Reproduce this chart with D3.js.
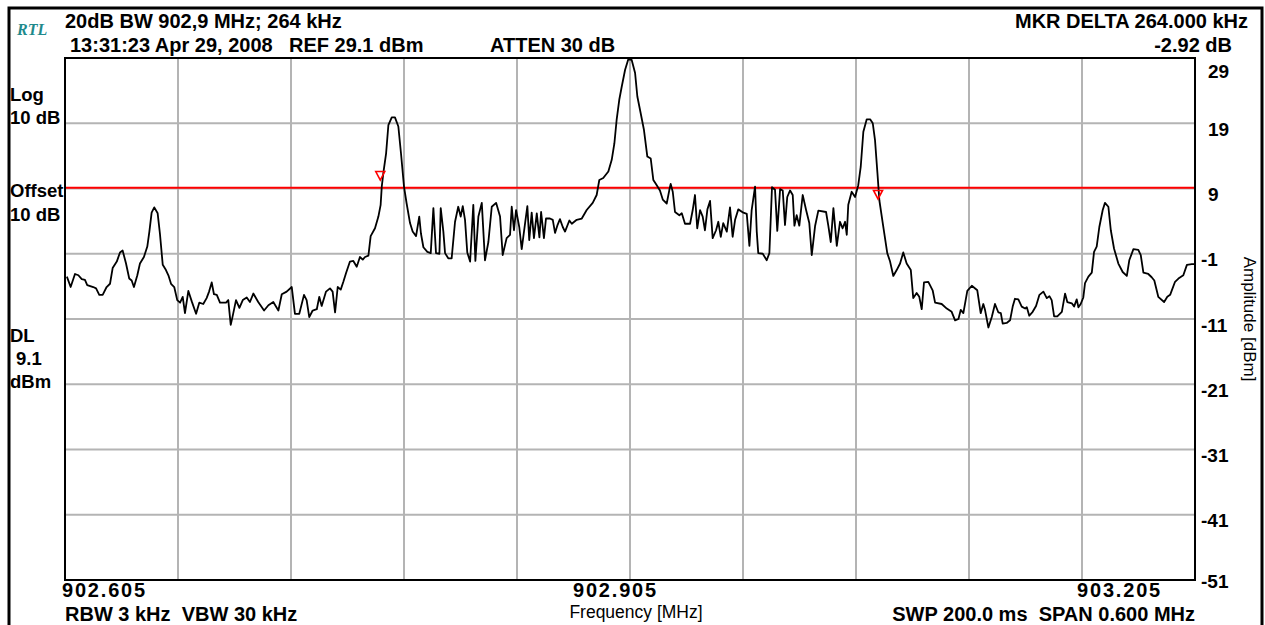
<!DOCTYPE html>
<html>
<head>
<meta charset="utf-8">
<script src="https://cdn.jsdelivr.net/npm/d3@7.9.0/dist/d3.min.js"></script>
<style>
  html, body { margin: 0; padding: 0; background: #fff; }
  svg { display: block; font-family: "Liberation Sans", Arial, sans-serif; }
  text { white-space: pre; }
</style>
</head>
<body>
<div id="chart"></div>
<script>
// analyzer settings
const startMHz = 902.605;
const stopMHz  = 903.205;
const refDBm   = 29;
const bottomDBm = -51;
const displayLineDBm = 9.1;

const xTickValues = [902.605, 902.905, 903.205];
const yTickValues = [29, 19, 9, -1, -11, -21, -31, -41, -51];

// trace: [kHz above start frequency, dBm]
const trace = [
  [1,-4.5],[3.0,-6.1],[5.3,-4.1],[7.1,-4.3],[8.9,-4.9],[10.6,-5.0],[11.8,-5.8],[15.0,-6.1],[16.5,-6.3],
  [18.2,-7.3],[20.0,-7.3],[22.1,-6.1],[23.9,-5.6],[25.3,-3.2],[27.5,-2.2],[29.2,-0.8],[30.6,-0.5],
  [32.4,-2.5],[34.1,-4.8],[35.4,-5.1],[36.6,-6.1],[38.4,-4.3],[39.8,-2.5],[41.9,-1.5],[43.7,0.1],
  [44.8,2.4],[46.0,5.3],[47.4,6.1],[49.2,5.2],[50.4,2.1],[51.9,-2.7],[53.6,-3.5],[54.9,-4.3],
  [56.3,-5.6],[58.0,-6.1],[59.6,-8.1],[61.1,-8.5],[62.5,-7.6],[63.7,-10.1],[65.5,-6.7],[67.3,-8.3],
  [69.6,-10.2],[71.3,-8.5],[73.4,-8.7],[75.2,-7.8],[76.5,-6.8],[77.9,-5.4],[79.1,-7.2],[80.6,-7.3],
  [82.3,-8.5],[85.5,-8.5],[86.7,-8.1],[88.0,-11.9],[89.0,-10.6],[90.8,-8.1],[92.6,-9.3],[94.4,-8.1],
  [96.5,-7.7],[98.2,-8.4],[100.0,-7.1],[102.6,-8.4],[105.7,-9.7],[108.0,-8.9],[110.6,-8.4],[113.3,-9.7],
  [115.1,-7.2],[117.7,-6.8],[120.4,-6.1],[122.1,-10.2],[124.4,-10.2],[126.9,-7.3],[128.3,-8.1],
  [129.7,-10.7],[131.5,-9.7],[133.7,-9.5],[135.0,-7.6],[136.3,-9.0],[138.6,-6.8],[140.7,-6.3],
  [142.1,-6.8],[143.4,-10.0],[144.8,-6.1],[146.4,-6.5],[147.8,-5.3],[149.2,-4.0],[151.3,-2.2],
  [153.1,-2.1],[154.9,-3.0],[156.6,-1.5],[158.1,-1.9],[159.3,-1.5],[161.1,-1.3],[162.3,1.7],[164.6,2.9],
  [166.4,4.7],[167.6,6.5],[168.2,9.3],[169.0,11.3],[170.5,14.4],[171.7,18.7],[173.5,19.9],[175.2,19.9],
  [177.0,18.5],[178.4,14.4],[180.0,9.3],[181.4,6.7],[183.2,3.7],[184.6,2.4],[186.4,1.7],[188.1,4.7],
  [189.0,2.1],[190.3,0.0],[192.4,-0.7],[194.2,-0.9],[195.6,6.0],[197.0,-0.9],[198.8,-1.0],[199.5,6.0],
  [200.9,2.4],[201.8,-0.9],[203.5,-1.7],[205.3,-1.7],[207.1,3.9],[208.8,6.2],[210.1,4.7],[211.2,6.3],
  [212.4,4.2],[213.6,-0.8],[215.1,-2.2],[216.8,6.5],[217.9,-2.1],[219.5,4.7],[221.3,6.8],[223.0,-2.0],
  [224.8,0.8],[226.6,6.2],[228.9,6.8],[231.0,4.7],[232.4,-1.2],[234.5,1.4],[236.3,1.9],[237.2,6.2],
  [238.4,2.6],[239.5,5.7],[241.2,3.1],[242.5,-0.3],[244.3,3.7],[245.5,6.3],[246.5,1.1],[247.8,5.3],
  [249.0,1.4],[250.5,5.2],[251.9,1.5],[252.8,5.4],[254.3,1.4],[255.4,4.4],[257.5,4.4],[259.0,4.2],
  [260.2,2.2],[261.4,3.3],[262.8,4.3],[264.3,3.1],[265.5,2.4],[267.8,4.1],[269.1,3.6],[271.7,4.2],
  [274.4,4.4],[277.0,5.7],[280.2,6.8],[282.3,8.0],[283.7,10.3],[285.8,10.6],[288.5,11.6],[290.3,13.4],
  [291.7,15.9],[292.9,19.5],[294.3,22.6],[295.6,24.6],[297.4,27.2],[299.1,28.8],[300.9,28.7],
  [302.7,26.7],[303.9,23.1],[305.7,20.5],[307.4,18.0],[309.2,13.9],[311.0,13.6],[312.4,10.3],
  [314.2,9.5],[315.9,8.7],[317.4,7.3],[319.5,6.7],[320.9,8.8],[321.6,9.7],[322.7,8.5],[323.9,5.4],
  [326.2,4.9],[327.5,5.2],[329.2,3.6],[331.9,3.6],[333.3,5.7],[334.5,8.0],[335.7,2.9],[337.2,5.7],
  [338.6,4.7],[339.8,2.6],[341.1,5.8],[342.5,7.1],[343.9,1.4],[345.7,2.6],[346.9,3.9],[348.2,1.6],
  [349.5,3.7],[351.4,2.4],[353.1,6.1],[354.5,1.6],[355.8,4.2],[357.5,5.8],[360.2,5.3],[362.0,5.1],
  [363.4,0.2],[364.6,5.7],[366.4,9.3],[367.3,2.4],[368.1,-0.9],[370.5,-1.0],[372.6,-2.0],[374.0,-0.9],
  [375.4,9.2],[377.0,8.8],[378.2,2.5],[379.7,8.9],[381.1,8.7],[382.3,3.4],[383.5,7.7],[385.0,8.7],
  [386.4,8.0],[387.3,3.3],[388.5,4.9],[389.9,3.3],[391.7,8.0],[393.5,5.7],[395.2,3.7],[396.5,-1.2],
  [398.3,3.3],[400.0,5.6],[404.1,5.4],[405.3,3.3],[406.6,0.8],[408.0,6.0],[409.8,0.2],[411.5,3.9],
  [412.9,2.9],[414.2,3.9],[415.1,1.9],[415.9,6.5],[417.7,8.5],[419.5,7.7],[421.2,9.5],[422.5,12.3],
  [423.9,17.7],[425.7,19.6],[427.5,19.6],[428.9,19.0],[430.1,16.4],[431.4,11.3],[432.4,7.2],[434.2,3.7],
  [436.6,-0.9],[438.1,-2.2],[439.8,-4.4],[441.6,-3.5],[443.4,-2.5],[445.1,-0.8],[446.9,-2.5],
  [449.1,-3.5],[450.4,-7.8],[452.2,-7.0],[453.6,-7.6],[454.9,-9.5],[456.1,-5.4],[458.4,-5.3],
  [460.7,-6.6],[462.0,-8.5],[465.5,-8.7],[468.2,-9.4],[470.8,-9.9],[472.6,-11.2],[474.4,-11.0],
  [475.6,-9.6],[477.0,-10.1],[479.1,-6.7],[481.5,-5.9],[484.4,-6.6],[486.2,-10.1],[487.6,-8.7],
  [488.5,-9.6],[490.3,-12.3],[492.1,-10.7],[493.8,-8.7],[495.6,-10.0],[496.9,-10.1],[497.9,-11.7],
  [500.0,-11.6],[501.8,-11.2],[503.2,-9.1],[504.4,-7.9],[506.2,-8.0],[508.0,-9.1],[509.8,-9.4],
  [510.7,-9.2],[512.0,-10.5],[513.8,-9.9],[515.6,-9.0],[517.4,-7.3],[519.5,-6.8],[521.3,-7.8],
  [522.7,-7.5],[523.9,-8.1],[525.2,-10.6],[526.9,-10.6],[529.3,-9.9],[531.0,-7.1],[532.2,-8.4],
  [534.6,-8.6],[535.8,-9.1],[537.2,-8.0],[538.1,-9.2],[539.3,-8.7],[540.7,-7.7],[541.6,-5.5],
  [543.4,-4.5],[545.2,-3.9],[546.4,-0.7],[547.8,0.1],[549.2,3.1],[551.0,5.7],[552.2,6.8],[554.0,6.2],
  [555.3,2.6],[557.0,-0.2],[559.3,-2.5],[561.6,-3.8],[563.8,-4.4],[565.1,-2.0],[567.3,-0.3],
  [569.9,-0.4],[571.2,-1.2],[572.6,-3.9],[575.2,-4.1],[577.0,-4.6],[578.4,-5.1],[580.5,-7.6],
  [583.6,-8.4],[585.3,-7.6],[586.8,-7.3],[589.4,-5.3],[591.2,-4.8],[593.8,-4.3],[595.7,-2.7],
  [598.3,-2.6],[600,-2.6],
];

// 20 dB bandwidth markers
const markers = [
  { mhz: 902.7724, dbm: 10.3 },
  { mhz: 903.0367, dbm: 7.4 },
];

const width = 1265;
const height = 625;
const plot = { left: 65, right: 1195, top: 58, bottom: 580 };

const svg = d3.select('#chart')
  .append('svg')
  .attr('width', width)
  .attr('height', height);

svg.append('rect').attr('width', width).attr('height', height).attr('fill', '#fff');

const x = d3.scaleLinear().domain([startMHz, stopMHz]).range([plot.left, plot.right]);
const y = d3.scaleLinear().domain([bottomDBm, refDBm]).range([plot.bottom, plot.top]);

// outer frame
svg.append('path')
  .attr('d', `M9,${height} V8 H1262 V${height}`)
  .attr('fill', 'none')
  .attr('stroke', '#000')
  .attr('stroke-width', 3);

// gridlines
const xGrid = d3.range(1, 10).map(i => startMHz + i * (stopMHz - startMHz) / 10);
const yGrid = d3.range(-41, 20, 10);

svg.append('g')
  .selectAll('line')
  .data(xGrid)
  .join('line')
  .attr('x1', d => x(d)).attr('x2', d => x(d))
  .attr('y1', plot.top).attr('y2', plot.bottom)
  .attr('stroke', '#b4b4b4')
  .attr('stroke-width', 2);

svg.append('g')
  .selectAll('line')
  .data(yGrid)
  .join('line')
  .attr('x1', plot.left).attr('x2', plot.right)
  .attr('y1', d => y(d)).attr('y2', d => y(d))
  .attr('stroke', '#b4b4b4')
  .attr('stroke-width', 2);

// display line
svg.append('line')
  .attr('x1', plot.left).attr('x2', plot.right)
  .attr('y1', y(displayLineDBm)).attr('y2', y(displayLineDBm))
  .attr('stroke', '#ff0000')
  .attr('stroke-width', 2);

// trace
const line = d3.line()
  .x(d => x(startMHz + d[0] / 1000))
  .y(d => y(d[1]));

svg.append('path')
  .datum(trace)
  .attr('d', line)
  .attr('fill', 'none')
  .attr('stroke', '#000')
  .attr('stroke-width', 1.8)
  .attr('stroke-linejoin', 'round');

// markers (hollow down-triangles)
svg.append('g')
  .selectAll('path')
  .data(markers)
  .join('path')
  .attr('transform', d => `translate(${x(d.mhz)},${y(d.dbm)})`)
  .attr('d', 'M-4.5,-8.5 L4.5,-8.5 L0,0 Z')
  .attr('fill', 'none')
  .attr('stroke', '#ff0000')
  .attr('stroke-width', 1.6);

// plot border
svg.append('rect')
  .attr('x', plot.left).attr('y', plot.top)
  .attr('width', plot.right - plot.left)
  .attr('height', plot.bottom - plot.top)
  .attr('fill', 'none')
  .attr('stroke', '#000')
  .attr('stroke-width', 2);

// y tick labels on the right
svg.append('g')
  .selectAll('text')
  .data(yTickValues)
  .join('text')
  .attr('x', d => plot.right + (d < 0 ? 6 : 13))
  .attr('y', (d, i) => y(d) + (i === 0 ? 13 : i === yTickValues.length - 1 ? 1 : 6))
  .attr('dy', '0.35em')
  .attr('font-size', 19)
  .attr('font-weight', 'bold')
  .text(d => d);

// x tick labels
const xAnchor = ['start', 'start', 'end'];
const xShift = [-3, -57, -33];
svg.append('g')
  .selectAll('text')
  .data(xTickValues)
  .join('text')
  .attr('x', (d, i) => x(d) + xShift[i])
  .attr('y', 597)
  .attr('text-anchor', (d, i) => xAnchor[i])
  .attr('font-size', 20)
  .attr('font-weight', 'bold')
  .attr('letter-spacing', 1.8)
  .text(d => d3.format('.3f')(d));

function label(txt, px, py, opts = {}) {
  const t = svg.append('text')
    .attr('x', px).attr('y', py)
    .attr('font-size', opts.size || 20)
    .attr('font-weight', opts.weight || 'bold')
    .attr('text-anchor', opts.anchor || 'start')
    .attr('fill', opts.fill || '#000')
    .text(txt);
  if (opts.family) t.attr('font-family', opts.family);
  if (opts.style) t.attr('font-style', opts.style);
  return t;
}

// header
label('RTL', 17, 35, { size: 16, weight: 'bold', style: 'italic', family: '"Liberation Serif", "Times New Roman", serif', fill: '#1f8a8c' });
label('20dB BW 902,9 MHz; 264 kHz', 65, 28);
label('13:31:23 Apr 29, 2008', 70, 52);
label('REF 29.1 dBm', 289, 52);
label('ATTEN 30 dB', 490, 52);
label('MKR DELTA 264.000 kHz', 1248, 28, { anchor: 'end' });
label('-2.92 dB', 1232, 52, { anchor: 'end' });

// left annotations
label('Log', 10, 101, { size: 18.5 });
label('10 dB', 10, 124, { size: 18.5 });
label('Offset', 10, 197, { size: 18.5 });
label('10 dB', 10, 221, { size: 18.5 });
label('DL', 10, 342, { size: 18.5 });
label('9.1', 16, 365, { size: 18.5 });
label('dBm', 10, 388, { size: 18.5 });

// footer
label('RBW 3 kHz  VBW 30 kHz', 65, 621);
label('SWP 200.0 ms  SPAN 0.600 MHz', 1195, 621, { anchor: 'end' });
label('Frequency [MHz]', 636, 618, { size: 17.5, weight: 'normal', anchor: 'middle' });

// right axis title
svg.append('text')
  .attr('transform', 'translate(1244,319) rotate(90)')
  .attr('text-anchor', 'middle')
  .attr('font-size', 17)
  .text('Amplitude [dBm]');
</script>
</body>
</html>
